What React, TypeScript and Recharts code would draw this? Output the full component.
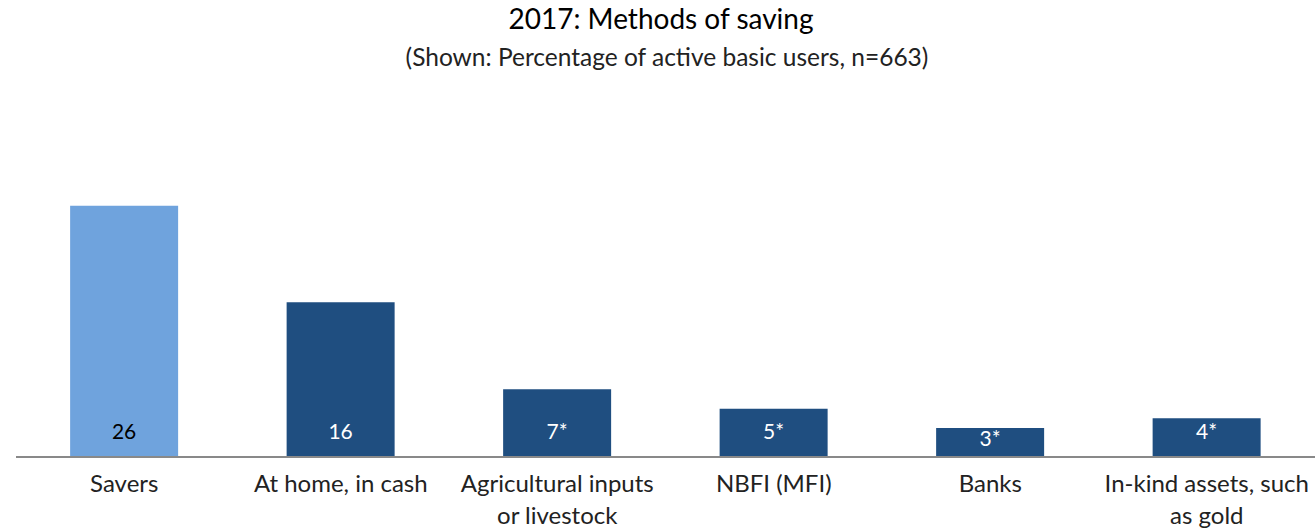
import React from "react";
import { BarChart, Bar, XAxis, YAxis, Cell, LabelList } from "recharts";

const categories = [
  "Savers",
  "At home, in cash",
  "Agricultural inputs\nor livestock",
  "NBFI (MFI)",
  "Banks",
  "In-kind assets, such\nas gold",
];
const values = [26, 16, 7, 5, 3, 4];
const valueLabels = ["26", "16", "7*", "5*", "3*", "4*"];
const barColors = ["#6FA3DD", "#1F4E80", "#1F4E80", "#1F4E80", "#1F4E80", "#1F4E80"];
const labelColors = ["#000000", "#FFFFFF", "#FFFFFF", "#FFFFFF", "#FFFFFF", "#FFFFFF"];

const title = "2017: Methods of saving";
const subtitle = "(Shown: Percentage of active basic users, n=663)";

const data = categories.map((c, i) => ({ name: c, value: values[i], label: valueLabels[i] }));

const FONT = "Lato, 'Open Sans', sans-serif";

const CategoryTick = (props: any) => {
  const { x, y, payload } = props;
  const lines = String(payload.value).split("\n");
  return (
    <text x={x} y={y} textAnchor="middle" fontFamily={FONT} fontSize={24} fill="#222">
      {lines.map((l, i) => (
        <tspan key={i} x={x} y={y + 27 + i * 32}>
          {l}
        </tspan>
      ))}
    </text>
  );
};

const ValueLabel = (props: any) => {
  const { x, y, width, height, index } = props;
  const top = Number(y);
  const bottom = top + Number(height);
  const cy = Math.max(bottom - 25, top + 11);
  return (
    <text
      x={Number(x) + Number(width) / 2}
      y={cy}
      dy="0.35em"
      textAnchor="middle"
      fontFamily={FONT}
      fontSize={21}
      fill={labelColors[index]}
    >
      {valueLabels[index]}
    </text>
  );
};

export default function App() {
  return (
    <div style={{ position: "absolute", left: 0, top: 0, width: 1315, height: 530, background: "#fff" }}>
      <svg width={1315} height={80} style={{ position: "absolute", left: 0, top: 0 }}>
        <text x={661} y={29} textAnchor="middle" fontFamily={FONT} fontSize={28} fill="#000">
          {title}
        </text>
        <text x={667} y={66} textAnchor="middle" fontFamily={FONT} fontSize={24.5} fill="#222">
          {subtitle}
        </text>
      </svg>
      <div style={{ position: "absolute", left: 0, top: 0 }}>
        <BarChart
          width={1315}
          height={530}
          data={data}
          margin={{ top: 167, right: 0, left: 16, bottom: 0 }}
          barCategoryGap="25%"
        >
          <XAxis
            dataKey="name"
            axisLine={{ stroke: "#898989", strokeWidth: 2 }}
            tickLine={false}
            tick={<CategoryTick />}
            interval={0}
            height={73}
          />
          <YAxis hide domain={[0, 30]} />
          <Bar dataKey="value" isAnimationActive={false}>
            {data.map((d, i) => (
              <Cell key={i} fill={barColors[i]} />
            ))}
            <LabelList dataKey="label" content={<ValueLabel />} />
          </Bar>
        </BarChart>
      </div>
    </div>
  );
}
